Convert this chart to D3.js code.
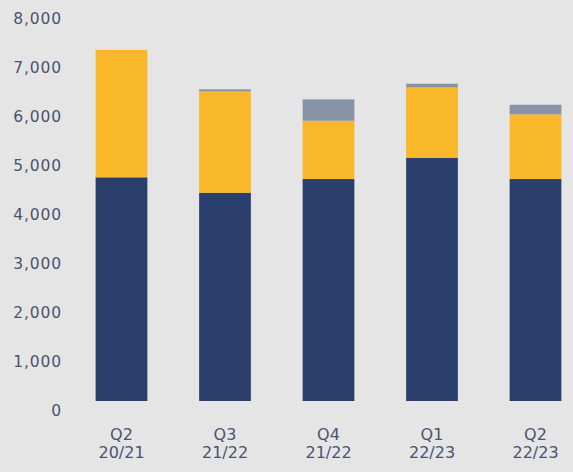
<!DOCTYPE html>
<html>
<head>
<meta charset="utf-8">
<script src="https://cdn.jsdelivr.net/npm/d3@7"></script>
<style>
  html, body { margin: 0; padding: 0; background: #e5e5e5; }
  svg { display: block; }
  .tick text { font-family: "DejaVu Sans", sans-serif; fill: #4b5370; }
</style>
</head>
<body>
<svg id="chart" width="573" height="472"></svg>
<script>
// quarters on the x axis (two lines each)
const quarters   = ["Q2", "Q3", "Q4", "Q1", "Q2"];
const years      = ["20/21", "21/22", "21/22", "22/23", "22/23"];
// stacked series
const navyVals   = [4565, 4250, 4530, 4965, 4530];
const yellowVals = [2600, 2070, 1190, 1435, 1320];
const greyVals   = [0, 40, 435, 75, 195];
const yTicks     = [0, 1000, 2000, 3000, 4000, 5000, 6000, 7000, 8000];

const colors = { navy: "#2b3f6d", yellow: "#f8b82a", grey: "#8893a8" };

const svg = d3.select("#chart");

const rows = quarters.map(function(q, i){
  return { key: i, navy: navyVals[i], yellow: yellowVals[i], grey: greyVals[i] };
});

const x = d3.scaleBand()
  .domain(rows.map(d => d.key))
  .range([69.75, 587.25])
  .paddingInner(0.5)
  .paddingOuter(0.25);

const y = d3.scaleLinear()
  .domain([0, 8000])
  .range([401, 9]);

const series = d3.stack().keys(["navy", "yellow", "grey"])(rows);

// bars
svg.append("g")
  .selectAll("g")
  .data(series)
  .join("g")
    .attr("fill", d => colors[d.key])
  .selectAll("rect")
  .data(d => d)
  .join("rect")
    .attr("x", d => x(d.data.key))
    .attr("y", d => y(d[1]))
    .attr("width", x.bandwidth())
    .attr("height", d => y(d[0]) - y(d[1]));

// y axis, labels only (they sit a bit below their value)
const yAxis = svg.append("g")
  .attr("transform", "translate(62,0)")
  .call(d3.axisLeft(y).tickValues(yTicks).tickSize(0).tickPadding(0)
    .tickFormat(d3.format(",")));
yAxis.select(".domain").remove();
yAxis.selectAll("text")
  .attr("dy", "14.3px")
  .style("font-size", "15.5px")
  .style("letter-spacing", "0.9px");

// x axis, two-line labels
const xAxis = svg.append("g")
  .attr("transform", "translate(0,401)")
  .call(d3.axisBottom(x).tickSize(0).tickFormat(""));
xAxis.select(".domain").remove();
xAxis.selectAll(".tick text").remove();
xAxis.selectAll(".tick").each(function(d){
  const t = d3.select(this);
  t.append("text").attr("text-anchor", "middle").style("font-size", "16px")
    .attr("y", 38.5).text(quarters[d]);
  t.append("text").attr("text-anchor", "middle").style("font-size", "16px")
    .attr("y", 56.5).text(years[d]);
});
</script>
</body>
</html>
